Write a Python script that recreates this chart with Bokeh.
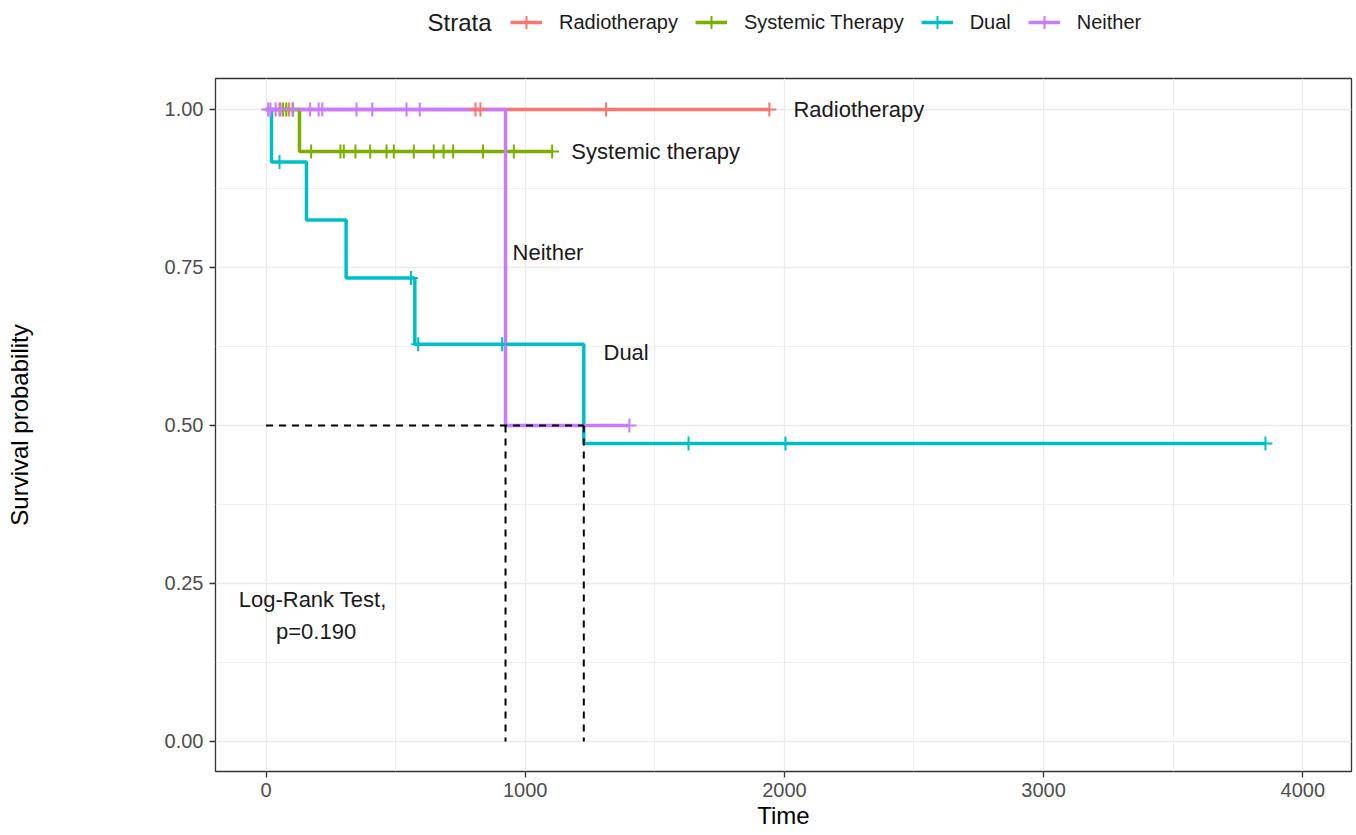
import numpy as np
from bokeh.plotting import figure
from bokeh.layouts import column
from bokeh.models import (FixedTicker, NumeralTickFormatter, Legend, LegendItem,
                          Label, Range1d)
from bokeh.core.properties import value
from bokeh.embed import file_html
from bokeh.resources import INLINE

FONT = "Liberation Sans"

# ---------------- data ----------------
strata = ["Radiotherapy", "Systemic Therapy", "Dual", "Neither"]
colors = ["#F8766D", "#7CAE00", "#00BFC4", "#C77CFF"]

# Kaplan-Meier steps: time of each step and survival after it
radio_time = [0, 1942]
radio_surv = [1.0, 1.0]
radio_censor = [52, 88, 808, 827, 1312, 1942]

sys_time = [0, 129, 1104]
sys_surv = [1.0, 0.9333, 0.9333]
sys_censor = [66, 78, 104, 174, 287, 300, 345, 402, 465, 493, 570, 647,
              685, 722, 837, 956, 1104]

dual_time = [0, 21, 156, 309, 574, 1226, 3856]
dual_surv = [1.0, 0.9167, 0.825, 0.7333, 0.6286, 0.4714, 0.4714]
dual_censor = [52, 559, 587, 911, 1630, 2004, 3856]

neither_time = [0, 924, 1402]
neither_surv = [1.0, 0.5, 0.5]
neither_censor = [8, 17, 37, 56, 102, 170, 203, 217, 349, 410, 542, 593, 1402]

median_time = [924, 1226]
median_surv = 0.5

x_ticks = [0, 1000, 2000, 3000, 4000]
x_minor = [500, 1500, 2500, 3500]
y_ticks = [0.0, 0.25, 0.5, 0.75, 1.0]
y_minor = [0.125, 0.375, 0.625, 0.875]

curve_labels = ["Radiotherapy", "Systemic therapy", "Neither", "Dual"]
curve_label_x = [2035, 1178, 951, 1302]
curve_label_y = [1.0, 0.9333, 0.774, 0.6155]

pval_lines = ["Log-Rank Test,", "p=0.190"]
pval_x = [180, 193]
pval_y = [0.224, 0.174]

LINE_W = 3.5
CROSS_SIZE = 14
FRAME_LEFT, FRAME_RIGHT = 215, 1351

# ---------------- legend strip (top) ----------------
LEG_H = 40
leg = figure(width=1354, height=LEG_H, output_backend="svg",
             toolbar_location=None, x_axis_location=None, y_axis_location=None,
             x_range=Range1d(FRAME_LEFT, FRAME_RIGHT), y_range=Range1d(0, LEG_H),
             min_border_left=0, min_border_right=0, min_border_top=0,
             min_border_bottom=0)
leg.title.visible = False
leg.outline_line_color = None
leg.grid.visible = False
leg.background_fill_color = "white"
leg.border_fill_color = "white"

items = []
for name, col in zip(strata, colors):
    lr = leg.line(x=[-100, -90], y=[-100, -100], line_color=col,
                  line_width=LINE_W)
    cr = leg.scatter(x=[-100], y=[-100], marker="cross", size=CROSS_SIZE,
                     line_color=col, line_width=2)
    items.append(LegendItem(label=name, renderers=[lr, cr]))

legend = Legend(items=items, orientation="horizontal",
                location=(510 - FRAME_LEFT, 2),
                glyph_width=32, glyph_height=32, label_standoff=17, spacing=17,
                padding=0, margin=0, border_line_color=None,
                background_fill_alpha=0,
                label_text_font=FONT, label_text_font_size="20px",
                label_text_color="#1A1A1A")
leg.add_layout(legend, "center")
leg.add_layout(Label(x=427, y=18, text="Strata", text_font=FONT,
                     text_font_size="24px", text_baseline="middle",
                     text_align="left", text_color="#1A1A1A"))

# ---------------- main plot ----------------
p = figure(width=1354, height=834 - LEG_H, output_backend="svg",
           toolbar_location=None,
           x_range=Range1d(-195, 4188), y_range=Range1d(-0.0475, 1.049),
           min_border_left=FRAME_LEFT, min_border_right=1354 - FRAME_RIGHT,
           min_border_top=78 - LEG_H, min_border_bottom=63)
p.title.visible = False
p.background_fill_color = "white"
p.border_fill_color = "white"
p.outline_line_color = "#333333"
p.outline_line_width = 1.3

p.xaxis.ticker = FixedTicker(ticks=x_ticks, minor_ticks=x_minor)
p.yaxis.ticker = FixedTicker(ticks=y_ticks, minor_ticks=y_minor)
p.xaxis.formatter = NumeralTickFormatter(format="0")
p.yaxis.formatter = NumeralTickFormatter(format="0.00")

p.axis.axis_line_color = None
p.axis.major_tick_line_color = "#333333"
p.axis.major_tick_line_width = 1.3
p.axis.major_tick_out = 6
p.axis.major_tick_in = 0
p.axis.minor_tick_line_color = None
p.axis.major_label_text_font = FONT
p.axis.major_label_text_font_size = "20px"
p.axis.major_label_text_color = "#4D4D4D"
p.xaxis.major_label_standoff = 5
p.yaxis.major_label_standoff = 6

p.xaxis.axis_label = "Time"
p.yaxis.axis_label = "Survival probability"
p.axis.axis_label_text_font = FONT
p.axis.axis_label_text_font_size = "24px"
p.axis.axis_label_text_font_style = "normal"
p.axis.axis_label_text_color = "black"
p.xaxis.axis_label_standoff = 2
p.yaxis.axis_label_standoff = 129

p.grid.grid_line_color = "#EBEBEB"
p.grid.grid_line_width = 1.3
p.grid.minor_grid_line_color = "#EBEBEB"
p.grid.minor_grid_line_width = 0.8

series = [(radio_time, radio_surv, radio_censor),
          (sys_time, sys_surv, sys_censor),
          (dual_time, dual_surv, dual_censor),
          (neither_time, neither_surv, neither_censor)]

for (t, s, c), col in zip(series, colors):
    p.step(x=t, y=s, mode="after", line_color=col, line_width=LINE_W)

for (t, s, c), col in zip(series, colors):
    idx = np.searchsorted(np.array(t), np.array(c), side="right") - 1
    cy = np.array(s)[idx]
    p.scatter(x=c, y=cy, marker="cross", size=CROSS_SIZE, line_color=col,
              line_width=2)

# median lines
p.segment(x0=[0], y0=[median_surv], x1=[max(median_time)], y1=[median_surv],
          line_color="black", line_width=2, line_dash="7 6")
p.segment(x0=median_time, y0=[median_surv] * len(median_time),
          x1=median_time, y1=[0] * len(median_time),
          line_color="black", line_width=2, line_dash="7 6")

# curve labels and p-value
p.text(x=curve_label_x, y=curve_label_y, text=curve_labels,
       text_font=value(FONT), text_font_size="22px", text_align="left",
       text_baseline="middle", text_color="#1A1A1A")
p.text(x=pval_x, y=pval_y, text=pval_lines,
       text_font=value(FONT), text_font_size="22px", text_align="center",
       text_baseline="middle", text_color="#1A1A1A")

layout = column(leg, p, spacing=0)
open("out.html", "w").write(file_html(layout, INLINE))
